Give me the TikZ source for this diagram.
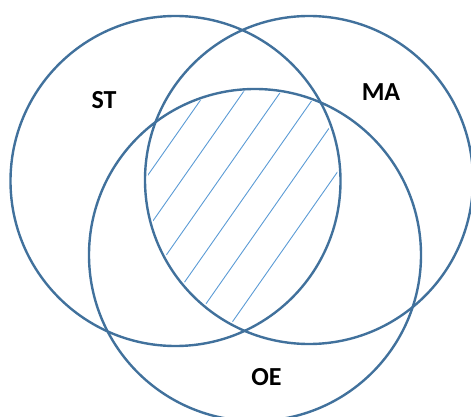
\documentclass[tikz,border=0pt]{standalone}
\usepackage{fontspec}
\setmainfont{Carlito}
\definecolor{ringblue}{HTML}{41719C}
\definecolor{hatchblue}{HTML}{5B9BD5}
\begin{document}
\begin{tikzpicture}[x=1pt,y=-1pt,
  ring/.style={draw=ringblue,line width=2.4pt},
  hatchline/.style={draw=hatchblue,line width=0.9pt},
  setlabel/.style={font=\fontsize{26}{30}\selectfont\bfseries,text=black,inner sep=0pt}]
\useasboundingbox (0,0) rectangle (471,417);
\begin{scope}
  \clip (175.5,181) circle (162);
  \clip (309,180) circle (161);
  \clip (255,255) circle (164);
  \foreach \c in {221.6,252,282.5,313,343,375}{
    \draw[hatchline] ({\c*0.819-200*0.574},{\c*0.574+200*0.819}) -- ({\c*0.819+200*0.574},{\c*0.574-200*0.819});
  }
\end{scope}
\begin{scope}
  \clip (0,0) rectangle (471,417);
  \node[ring,circle,minimum size=330pt,inner sep=0pt] (st) at (175.5,181) {};
  \node[ring,circle,minimum size=328pt,inner sep=0pt] (ma) at (309,180) {};
  \node[ring,circle,minimum size=332pt,inner sep=0pt] (oe) at (255,255) {};
\end{scope}
\node[setlabel] (lst) at (104,100) {ST};
\node[setlabel] (lma) at (381,92) {MA};
\node[setlabel] (loe) at (266.5,377.5) {OE};
\end{tikzpicture}
\end{document}
